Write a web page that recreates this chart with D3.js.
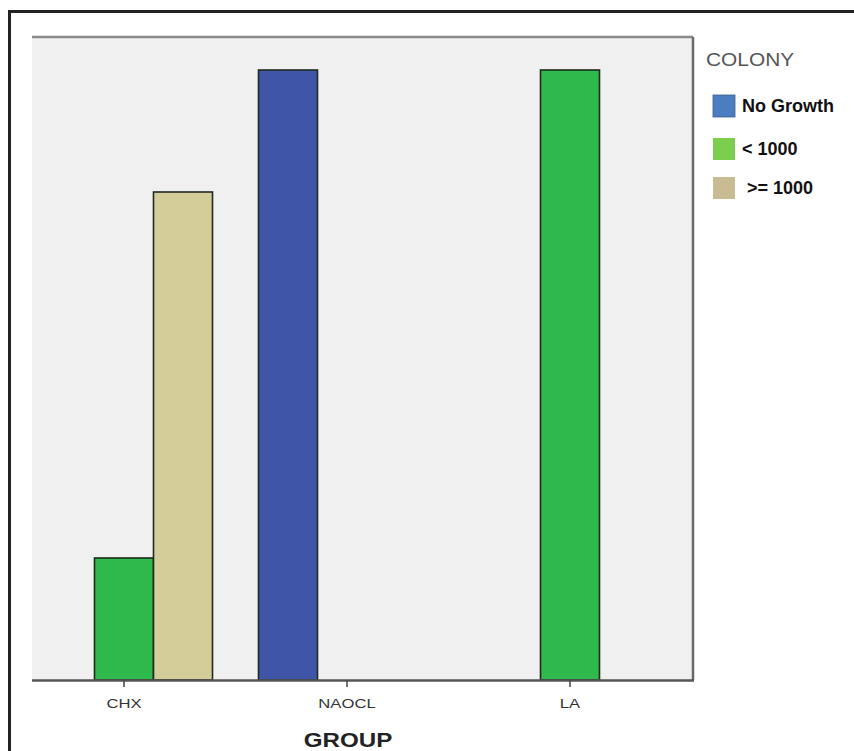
<!DOCTYPE html>
<html>
<head>
<meta charset="utf-8">
<script src="https://cdn.jsdelivr.net/npm/d3@7"></script>
<style>
  html, body { margin: 0; padding: 0; background: #fff; }
  svg { display: block; }
</style>
</head>
<body>
<svg id="chart" width="854" height="751"></svg>
<script>
// Group categories and colony classes
const groups = ["CHX", "NAOCL", "LA"];
const colonies = ["No Growth", "< 1000", ">= 1000"];

// Counts per group, one array per colony class (same order as groups)
const noGrowth = [0, 10, 0];
const under1000 = [2, 0, 10];
const over1000 = [8, 0, 0];

// Bar fills and legend swatch fills
const barColors = ["#3f55a8", "#2fb84b", "#d5cd99"];
const swatchColors = ["#4a7ec0", "#7ccf4c", "#c9bc92"];

const series = [noGrowth, under1000, over1000];
const rows = [];
groups.forEach((g, gi) => {
  colonies.forEach((c, ci) => {
    rows.push({ group: g, colony: c, ci, value: series[ci][gi] });
  });
});

const svg = d3.select("#chart");
const sans = "Liberation Sans, Arial, sans-serif";

// Outer frame
svg.append("rect")
  .attr("x", 9.5).attr("y", 11.5)
  .attr("width", 860).attr("height", 760)
  .attr("fill", "none").attr("stroke", "#222").attr("stroke-width", 3);

const plot = { left: 32, right: 693, top: 37, bottom: 680 };

// Plot background
svg.append("rect")
  .attr("x", plot.left).attr("y", plot.top)
  .attr("width", plot.right - plot.left).attr("height", plot.bottom - plot.top)
  .attr("fill", "#f0f0f0");

const x0 = d3.scaleBand().domain(groups).range([12.5, 681.5]).padding(0);
const clusterW = 177;
const x1 = d3.scaleBand().domain(colonies)
  .range([(x0.bandwidth() - clusterW) / 2, (x0.bandwidth() + clusterW) / 2]);
const y = d3.scaleLinear().domain([0, 10]).range([plot.bottom, 70]);

// Bars
svg.append("g")
  .selectAll("rect")
  .data(rows.filter(d => d.value > 0))
  .join("rect")
  .attr("x", d => x0(d.group) + x1(d.colony))
  .attr("y", d => y(d.value))
  .attr("width", x1.bandwidth())
  .attr("height", d => y(0) - y(d.value))
  .attr("fill", d => barColors[d.ci])
  .attr("stroke", "#1e2a1e")
  .attr("stroke-width", 1.6);

// Plot frame: top and right in gray, baseline darker
svg.append("line")
  .attr("x1", plot.left).attr("x2", plot.right)
  .attr("y1", plot.top).attr("y2", plot.top)
  .attr("stroke", "#8a8a8a").attr("stroke-width", 2.5);
svg.append("line")
  .attr("x1", plot.right).attr("x2", plot.right)
  .attr("y1", plot.top).attr("y2", plot.bottom)
  .attr("stroke", "#6a6a6a").attr("stroke-width", 2.5);

// X axis
const xAxis = svg.append("g")
  .attr("transform", `translate(0,${plot.bottom})`)
  .call(d3.axisBottom(x0).tickSize(7).tickSizeOuter(0).tickPadding(12));
xAxis.select(".domain")
  .attr("d", `M${plot.left},0.5H${plot.right + 1}`)
  .attr("stroke", "#555").attr("stroke-width", 2.5);
xAxis.selectAll(".tick line").attr("stroke", "#444").attr("stroke-width", 1.5);
xAxis.selectAll(".tick text")
  .attr("fill", "#333")
  .attr("transform", "scale(1.28,1)")
  .style("font-family", sans)
  .style("font-size", "13px");

// X axis title
svg.append("text")
  .attr("transform", "translate(348,747) scale(1.15,1)")
  .attr("text-anchor", "middle")
  .style("font-family", sans)
  .style("font-weight", "bold")
  .style("font-size", "21px")
  .attr("fill", "#222")
  .text("GROUP");

// Legend
const legend = svg.append("g");
legend.append("text")
  .attr("transform", "translate(706,66) scale(1.16,1)")
  .style("font-family", sans)
  .style("font-size", "18px")
  .attr("fill", "#555")
  .text("COLONY");

const legendY = [95, 138, 177];
const labelX = [742, 742, 747];
colonies.forEach((c, i) => {
  legend.append("rect")
    .attr("x", 713).attr("y", legendY[i])
    .attr("width", 22).attr("height", 22)
    .attr("fill", swatchColors[i])
    .attr("stroke", i === 0 ? "#3a5f90" : "none")
    .attr("stroke-width", 0.8);
  legend.append("text")
    .attr("x", labelX[i]).attr("y", legendY[i] + 17)
    .style("font-family", sans)
    .style("font-weight", "bold")
    .style("font-size", "18px")
    .attr("fill", "#111")
    .text(c);
});
</script>
</body>
</html>
